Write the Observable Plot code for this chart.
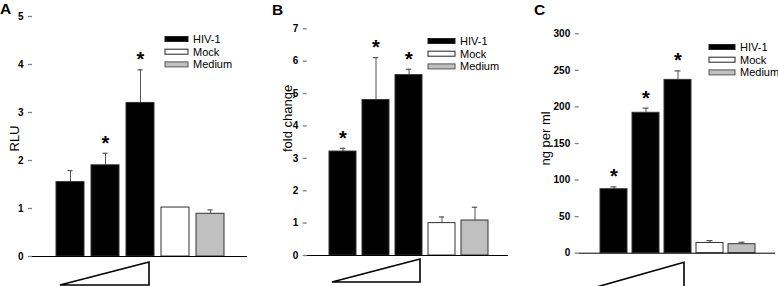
<!DOCTYPE html>
<html><head><meta charset="utf-8">
<script src="https://cdn.jsdelivr.net/npm/d3@7"></script>
<script src="https://cdn.jsdelivr.net/npm/@observablehq/plot@0.6"></script>
<style>
body{margin:0;background:#fff;}
#wrap{position:relative;width:778px;height:286px;overflow:hidden;font-family:Arial,"Liberation Sans",sans-serif;}
#wrap svg.panel{position:absolute;top:0;}
#overlay{position:absolute;left:0;top:0;pointer-events:none;}
</style></head>
<body><div id="wrap"></div>
<script>
// ---- data ----
const categories = ["HIV-1 low", "HIV-1 mid", "HIV-1 high", "Mock", "Medium"];
const groups = ["HIV-1", "HIV-1", "HIV-1", "Mock", "Medium"];
const legendLabels = ["HIV-1", "Mock", "Medium"];
const legendColors = ["#000000", "#ffffff", "#c0c0c0"];
const panelLetters = ["A", "B", "C"];
const yLabels = ["RLU", "fold change", "ng per ml"];

const rluValues = [1.55, 1.90, 3.20, 1.02, 0.89];
const rluErrors = [0.24, 0.25, 0.69, 0, 0.08];
const rluSig = [false, true, true, false, false];
const rluTicks = [0, 1, 2, 3, 4, 5];

const foldValues = [3.21, 4.80, 5.57, 1.00, 1.08];
const foldErrors = [0.10, 1.31, 0.18, 0.19, 0.41];
const foldSig = [true, true, true, false, false];
const foldTicks = [0, 1, 2, 3, 4, 5, 6, 7];

const ngValues = [87.5, 192, 237, 14, 12.3];
const ngErrors = [3.2, 6.3, 12.3, 3.2, 2.7];
const ngSig = [true, true, true, false, false];
const ngTicks = [0, 50, 100, 150, 200, 250, 300];

// ---- layout ----
const panels = [
  {values: rluValues, errors: rluErrors, sig: rluSig, ticks: rluTicks, label: yLabels[0], letter: panelLetters[0],
   left: 0, width: 250, mL: 32, mR: 3, mT: 16, mB: 30, xRange: [50.6, 229.4], pi: 0.19,
   tri: [4, -5, 6, 29], lab: [-18, 2], letterPos: [0, 14],
   legend: {x: 165, w: 23, y: 39, tx: 193}},
  {values: foldValues, errors: foldErrors, sig: foldSig, ticks: foldTicks, label: yLabels[1], letter: panelLetters[1],
   left: 258, width: 260, mL: 48.7, mR: 10, mT: 28.3, mB: 31, xRange: [65.9, 235.1], pi: 0.185,
   tri: [3, -2, 4, 27], lab: [-19, -23.7], letterPos: [272, 15],
   legend: {x: 428, w: 27, y: 41, tx: 460}},
  {values: ngValues, errors: ngErrors, sig: ngSig, ticks: ngTicks, label: yLabels[2], letter: panelLetters[2],
   left: 518, width: 260, mL: 60.7, mR: 3, mT: 33.3, mB: 33.3, xRange: [78.2, 240.8], pi: 0.17,
   tri: [-6, -7, 9.6, 35], lab: [-33, -5], letterPos: [534, 15],
   legend: {x: 709, w: 26, y: 47, tx: 740}}
];

const font = "Arial, 'Liberation Sans', sans-serif";
const wrap = document.getElementById("wrap");

function triangleMark(cfg) {
  return (index, scales) => {
    const x = scales.x;
    const bw = x.bandwidth ? x.bandwidth() : 28;
    const x0 = x(categories[0]) + cfg.tri[0];
    const x1 = x(categories[2]) + bw + cfg.tri[1];
    const y0 = scales.y(0);
    const yt = y0 + cfg.tri[2], yb = y0 + cfg.tri[3];
    const p = document.createElementNS("http://www.w3.org/2000/svg", "path");
    p.setAttribute("d", `M${x0},${yb}L${x1},${yt}L${x1},${yb}Z`);
    p.setAttribute("fill", "#fff");
    p.setAttribute("stroke", "#000");
    p.setAttribute("stroke-width", "1.6");
    return p;
  };
}

panels.forEach(cfg => {
  const data = categories.map((c, i) => ({c, g: groups[i], v: cfg.values[i], e: cfg.errors[i], s: cfg.sig[i]}));
  const withErr = data.filter(d => d.e > 0);
  const bwApprox = (cfg.xRange[1] - cfg.xRange[0]) / 5 * (1 - cfg.pi);
  const capInset = (bwApprox - 6) / 2;
  const svg = Plot.plot({
    width: cfg.width, height: 286,
    marginLeft: cfg.mL, marginRight: cfg.mR, marginTop: cfg.mT, marginBottom: cfg.mB,
    style: {fontFamily: font, overflow: "visible", background: "transparent"},
    x: {type: "band", domain: categories, range: cfg.xRange, paddingInner: cfg.pi, paddingOuter: cfg.pi / 2, axis: null},
    y: {domain: [cfg.ticks[0], cfg.ticks[cfg.ticks.length - 1]], axis: null},
    color: {domain: legendLabels, range: legendColors},
    marks: [
      Plot.ruleX(withErr, {x: "c", y1: "v", y2: d => d.v + d.e, stroke: "#555", strokeWidth: 1}),
      Plot.tickY(withErr, {x: "c", y: d => d.v + d.e, stroke: "#555", strokeWidth: 1.2, insetLeft: capInset, insetRight: capInset}),
      Plot.barY(data, {x: "c", y: "v", fill: "g", stroke: "#333", strokeWidth: 1}),
      Plot.text(data.filter(d => d.s), {x: "c", y: d => d.v + d.e, text: () => "*", dy: -10, fontSize: 20, fontWeight: "bold", fill: "#000"}),
      Plot.axisY({ticks: cfg.ticks, tickFormat: d3.format("d"), tickSize: 4, tickPadding: 5, stroke: "#808080", strokeWidth: 1.3, fill: "#000", fontSize: 10, fontWeight: "bold", label: null, line: true}),
      Plot.ruleY([0], {stroke: "#000", strokeWidth: 1}),
      triangleMark(cfg),
      Plot.text([cfg.label], {frameAnchor: "left", textAnchor: "middle", lineAnchor: "middle", rotate: -90, dx: cfg.lab[0], dy: cfg.lab[1], fontSize: 13, fill: "#000"})
    ]
  });
  svg.classList.add("panel");
  svg.style.left = cfg.left + "px";
  wrap.appendChild(svg);
});

// overlay: panel letters and legends
const NS = "http://www.w3.org/2000/svg";
const ov = document.createElementNS(NS, "svg");
ov.setAttribute("id", "overlay");
ov.setAttribute("width", 778);
ov.setAttribute("height", 286);
ov.style.fontFamily = font;
panels.forEach(cfg => {
  const t = document.createElementNS(NS, "text");
  t.setAttribute("x", cfg.letterPos[0]);
  t.setAttribute("y", cfg.letterPos[1]);
  t.setAttribute("font-size", 15.5);
  t.setAttribute("font-weight", "bold");
  t.textContent = cfg.letter;
  ov.appendChild(t);
  legendLabels.forEach((lab, i) => {
    const cy = cfg.legend.y + i * 12.7;
    const r = document.createElementNS(NS, "rect");
    r.setAttribute("x", cfg.legend.x);
    r.setAttribute("y", cy - 2.5);
    r.setAttribute("width", cfg.legend.w);
    r.setAttribute("height", 5);
    r.setAttribute("fill", legendColors[i]);
    r.setAttribute("stroke", i === 2 ? "#555" : "#222");
    r.setAttribute("stroke-width", 1);
    ov.appendChild(r);
    const tx = document.createElementNS(NS, "text");
    tx.setAttribute("x", cfg.legend.tx);
    tx.setAttribute("y", cy + 4);
    tx.setAttribute("font-size", 11);
    tx.textContent = lab;
    ov.appendChild(tx);
  });
});
wrap.appendChild(ov);
</script>
</body></html>
